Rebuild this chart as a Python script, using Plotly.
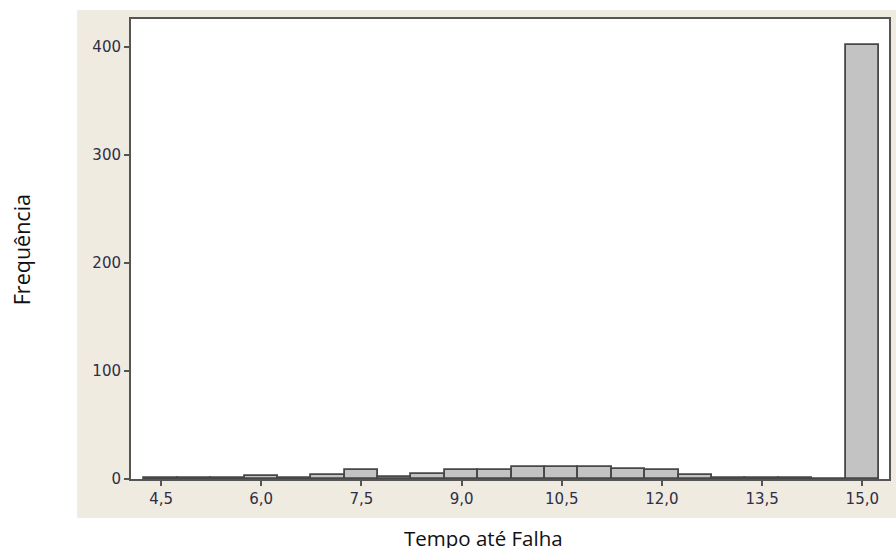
import plotly.graph_objects as go

bin_centers = [4.5, 5.0, 5.5, 6.0, 6.5, 7.0, 7.5, 8.0, 8.5, 9.0, 9.5, 10.0, 10.5,
               11.0, 11.5, 12.0, 12.5, 13.0, 13.5, 14.0, 14.5, 15.0]
frequencies = [1, 1, 1, 3, 1, 4, 8, 2, 5, 8, 8, 11, 11,
               11, 9, 8, 4, 1, 1, 1, 0, 402]
bin_width = 0.5

x_tick_vals = [4.5, 6.0, 7.5, 9.0, 10.5, 12.0, 13.5, 15.0]
x_tick_text = ["4,5", "6,0", "7,5", "9,0", "10,5", "12,0", "13,5", "15,0"]
y_tick_vals = [0, 100, 200, 300, 400]

x_title = "Tempo até Falha"
y_title = "Frequência"

fig = go.Figure()
fig.add_trace(go.Bar(
    x=bin_centers, y=frequencies, width=[bin_width] * len(bin_centers),
    marker=dict(color="#c3c3c3", line=dict(color="#474747", width=1.8)),
    hoverinfo="x+y",
))

tick_font = dict(family="DejaVu Sans", size=15, color="#2e2e46")

fig.update_layout(
    width=896, height=548,
    margin=dict(l=131, r=5, t=19, b=69),
    paper_bgcolor="white",
    plot_bgcolor="white",
    showlegend=False,
    bargap=0,
    xaxis=dict(
        range=[4.05, 15.4], tickvals=x_tick_vals, ticktext=x_tick_text,
        ticks="outside", ticklen=5, tickwidth=1.5, tickcolor="#555555",
        showline=True, linecolor="#555555", linewidth=2, mirror=True,
        showgrid=False, zeroline=False, tickfont=tick_font,
    ),
    yaxis=dict(
        range=[0, 426], tickvals=y_tick_vals,
        ticks="outside", ticklen=5, tickwidth=1.5, tickcolor="#555555",
        showline=True, linecolor="#555555", linewidth=2, mirror=True,
        showgrid=False, zeroline=False, tickfont=tick_font,
    ),
    shapes=[
        dict(type="rect", xref="paper", yref="paper",
             x0=-0.0711, x1=1.01, y0=-0.0848, y1=1.0196,
             fillcolor="#efebe1", line=dict(width=0), layer="below"),
        dict(type="rect", xref="paper", yref="paper",
             x0=0, x1=1, y0=0, y1=1,
             fillcolor="white", line=dict(width=0), layer="below"),
    ],
    annotations=[
        dict(text=x_title, xref="paper", yref="paper", x=0.4645, y=-0.128,
             xanchor="center", yanchor="middle", showarrow=False,
             font=dict(family="Open Sans", size=20.5, color="#111111")),
        dict(text=y_title, xref="paper", yref="paper", x=-0.1434, y=0.498,
             xanchor="center", yanchor="middle", showarrow=False, textangle=-90,
             font=dict(family="Open Sans", size=21.5, color="#111111")),
    ],
)

fig.write_html(
    "out.html",
    config={"displayModeBar": False},
    post_script="document.body.style.margin='0';document.body.style.overflow='hidden';",
)
